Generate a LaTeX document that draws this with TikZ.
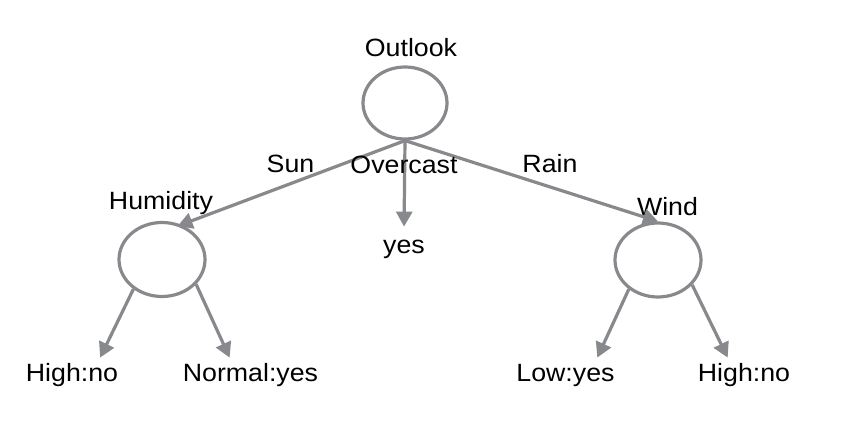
\documentclass[tikz,border=0pt]{standalone}
\usepackage{fontspec}
\setmainfont[FakeStretch=1.07]{Liberation Sans}
\usepackage{tikz}
\usetikzlibrary{arrows.meta,shapes.geometric}
\definecolor{cinza}{RGB}{136,137,140}

\begin{document}
\begin{tikzpicture}[
x=0.5pt, y=-0.5pt,
atributo/.style={
ellipse,
draw=cinza,
line width=1.6pt,
inner sep=0pt,
minimum width=43pt,
minimum height=37pt
},
rotulo/.style={
anchor=base,
inner sep=2pt,
font=\fontsize{12.5}{15}\selectfont
},
folha/.style={
rotulo,
text height=9.5pt,
text depth=3pt
},
seta/.style={-{Triangle[length=7.5pt,width=8pt]}, draw=cinza, line width=1.6pt}
]
\useasboundingbox (0,0) rectangle (852,428);

\node[atributo, minimum width=42pt, minimum height=36pt] (outlook) at (405,103) {};
\node[rotulo] (outlooklbl) at (411,56) {Outlook};

\node[atributo] (humidity) at (162,259.5) {};
\node[rotulo] (humiditylbl) at (161,209) {Humidity};

\node[atributo] (wind) at (658,260) {};
\node[rotulo] (windlbl) at (667.5,215) {Wind};

\node[folha] (yes) at (404,253) {yes};
\node[folha] (highno) at (72,381) {High:no};
\node[folha] (normalyes) at (250.5,381) {Normal:yes};
\node[folha] (lowyes) at (565.5,381) {Low:yes};
\node[folha] (highnob) at (744,381) {High:no};

\draw[seta, shorten >=-2pt] (outlook.south) -- (humidity.61);
\draw[seta, shorten >=1.5pt] (outlook.south) -- (yes.north);
\draw[seta] (outlook.south) -- (wind.north);

\draw[seta] (humidity.-134) -- (highno.31);
\draw[seta] (humidity.-36) -- (normalyes.141);
\draw[seta] (wind.-135) -- (lowyes.28);
\draw[seta] (wind.-36) -- (highnob.134);

\node[rotulo] (sun) at (290.5,172) {Sun};
\node[rotulo] (overcast) at (404,173) {Overcast};
\node[rotulo] (rain) at (550,172) {Rain};

\end{tikzpicture}
\end{document}
